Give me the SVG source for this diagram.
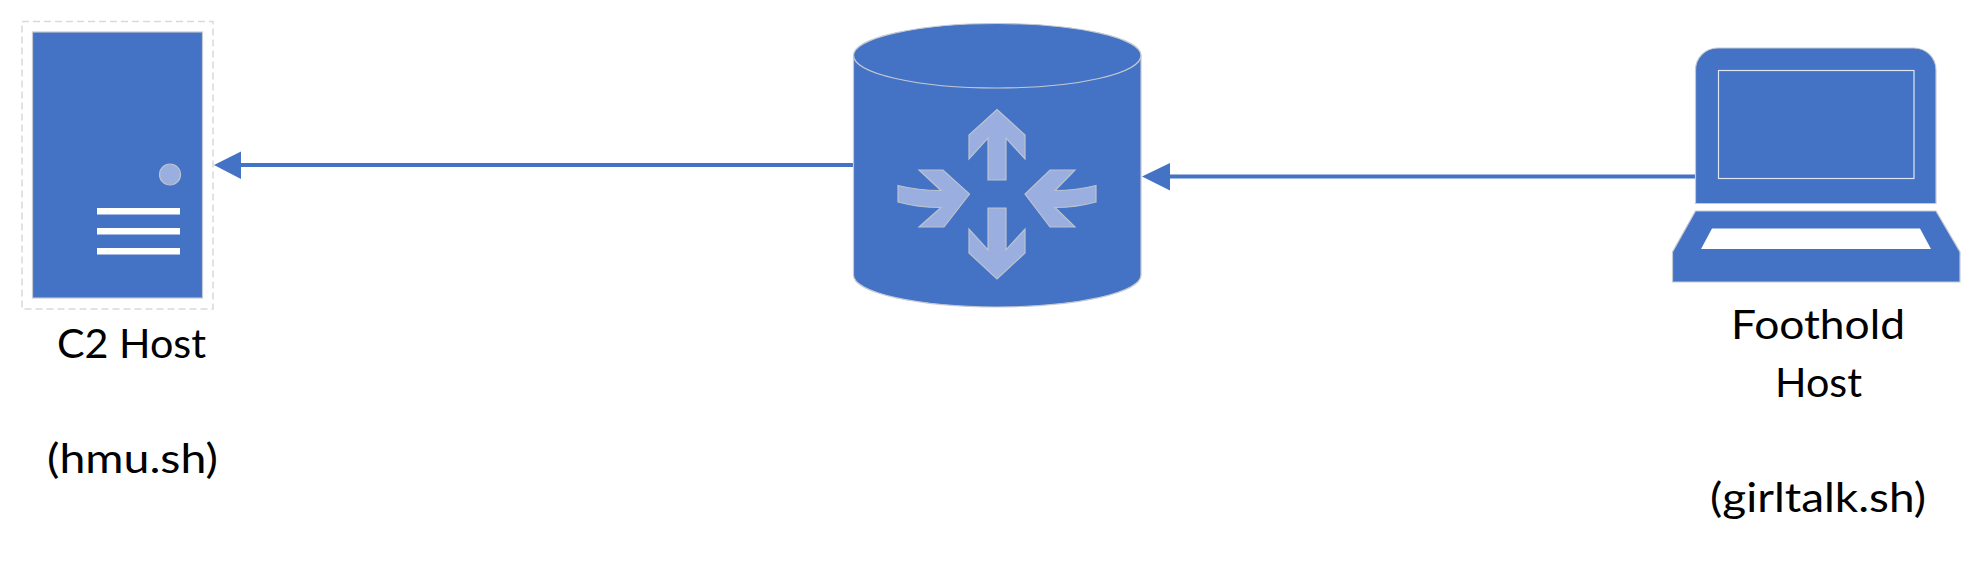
<svg xmlns="http://www.w3.org/2000/svg" width="1982" height="570" viewBox="0 0 1982 570">
<style>
.b{fill:#4472c4;stroke:#c4c9d2;stroke-width:1.2}
.l{fill:#9aafdf;stroke:#bcc3d0;stroke-width:1.2}
.w{fill:#fff}
.c{stroke:#4472c4;stroke-width:4;fill:none}
.h{fill:#4472c4}
text{font-family:Lato,"Open Sans",sans-serif;font-size:41px;fill:#000;text-anchor:start}
</style>
<rect width="1982" height="570" fill="#fff"/>
<g id="connectors">
<line class="c" x1="854" y1="165" x2="238" y2="165"/>
<polygon class="h" points="214,165 241,151.5 241,179"/>
<line class="c" x1="1696" y1="176.5" x2="1166" y2="176.5"/>
<polygon class="h" points="1142,176.5 1170,163 1170,190.5"/>
</g>
<g id="c2-host">
<rect x="22" y="21.500" width="191" height="287.500" fill="none" stroke="#d9d9d9" stroke-width="1.500" stroke-dasharray="7 4"/>
<rect class="b" x="32.500" y="32" width="170" height="266"/>
<circle class="l" cx="170" cy="174.500" r="10.500"/>
<rect class="w" x="97" y="208" width="83" height="6.500"/>
<rect class="w" x="97" y="228" width="83" height="6.500"/>
<rect class="w" x="97" y="248" width="83" height="6.500"/>
<text x="57" y="358" textLength="149" lengthAdjust="spacingAndGlyphs">C2 Host</text>
<text x="47" y="473" textLength="171" lengthAdjust="spacingAndGlyphs">(hmu.sh)</text>
</g>
<g id="router">
<path class="b" d="M853.500 55.500A143.750 32 0 0 1 1141 55.500V275A143.750 32 0 0 1 853.500 275Z"/>
<path d="M853.500 55.500A143.750 32.500 0 0 0 1141 55.500" fill="none" stroke="#c4c9d2" stroke-width="1.200"/>
<polygon class="l" points="997,109.500 1025,135 1025,159 1006,138 1006,180 988,180 988,138 969,159 969,135"/>
<polygon class="l" points="988,208 1006,208 1006,250 1025,229 1025,253 997,279 969,253 969,229 988,250"/>
<path class="l" d="M919 170H943L969.500 194L944 227H919L941 207.500Q918 207.500 898 202V185.500Q918 190.500 941 190.500Z"/>
<path class="l" d="M1075 170H1050L1025 194L1050 227H1075L1055 207.500Q1076 207.500 1096 202V185.500Q1076 190.500 1055 190.500Z"/>
</g>
<g id="foothold-host">
<path class="b" d="M1695.500 70A22 22 0 0 1 1717.500 48H1914A22 22 0 0 1 1936 70V203.500H1695.500Z"/>
<rect x="1718.500" y="70.500" width="195.500" height="108" fill="none" stroke="#dfe5f3" stroke-width="1.200"/>
<path class="b" d="M1695.500 211H1936L1960 252V282H1672.500V252Z"/>
<polygon class="w" points="1712,228.500 1920,228.500 1931,249 1701,249"/>
<text x="1731" y="339" textLength="174" lengthAdjust="spacingAndGlyphs">Foothold</text>
<text x="1775" y="397" textLength="87" lengthAdjust="spacingAndGlyphs">Host</text>
<text x="1710" y="512" textLength="216" lengthAdjust="spacingAndGlyphs">(girltalk.sh)</text>
</g>
</svg>
